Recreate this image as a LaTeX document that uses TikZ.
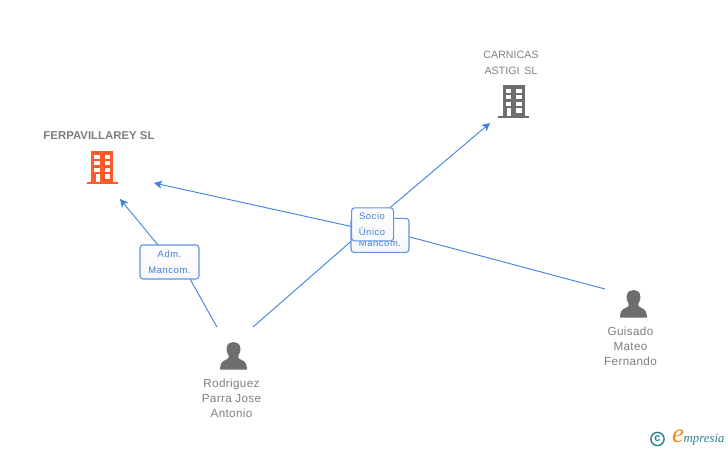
\documentclass[tikz,border=0pt]{standalone}
\usepackage{fontspec}
\setmainfont{Liberation Sans}
\newfontfamily\spacedfont[LetterSpace=6]{Liberation Sans}
\newfontfamily\wordfont[LetterSpace=3]{Liberation Sans}
\newfontfamily\capsfont[LetterSpace=0.5]{Liberation Sans}
\newfontfamily\logofont[Ligatures=TeX]{Liberation Serif}
\definecolor{edgeblue}{HTML}{3F81E3}
\definecolor{boxblue}{HTML}{5F93E6}
\definecolor{labelblue}{HTML}{3A7FDD}
\definecolor{textgray}{HTML}{7F7F7F}
\definecolor{icongray}{HTML}{6E6E6E}
\definecolor{firmorange}{HTML}{FF5A2B}
\definecolor{logoteal}{HTML}{2F7F93}
\definecolor{logoorange}{HTML}{F08A1D}
\usetikzlibrary{arrows.meta}
\tikzset{
  x=1pt,y=-1pt,
  link/.style={draw=edgeblue,line width=0.9pt},
  linkhead/.style={link,-{Stealth[length=8pt,width=8pt,inset=2pt]}},
  rolebox/.style={draw=boxblue,line width=1.1pt,rounded corners=3pt,top color=white,bottom color=black!3,inner sep=0pt,text=labelblue,align=center,font=\fontsize{9.4}{15.5}\selectfont\spacedfont},
  namelabel/.style={text=textgray,align=center,inner sep=0pt,font=\fontsize{11.7}{15}\selectfont\wordfont},
}
% building icon centred on x, with top at y
\newcommand{\buildingicon}[3]{%
  \begin{scope}[shift={(#1,#2)}]
    \fill[#3] (-11,0) rectangle (11,31);
    \fill[#3] (-15.5,31) rectangle (15.5,33.5);
    \foreach \wy in {4,10.5,17}{
      \fill[white] (-7.7,\wy) rectangle (-2.5,\wy+4.3);
      \fill[white] (2.7,\wy) rectangle (8,\wy+4.3);
    }
    \fill[white] (-6.5,23.5) rectangle (-2.5,31);
    \fill[white] (2.7,23.5) rectangle (8,28);
  \end{scope}}
% person icon centred on x, with top at y
\newcommand{\personicon}[2]{%
  \begin{scope}[shift={(#1,#2)}]
    \fill[icongray] (-13.5,27.5) .. controls (-13.3,24) and (-12.5,20.5) .. (-10.5,19.3)
      .. controls (-9,18.4) and (-7,17.6) .. (-5.5,16.5)
      .. controls (-4.5,15.8) and (-4.5,14.5) .. (-5,13.5)
      .. controls (-7,11) and (-7,8) .. (-6.8,6)
      .. controls (-6.5,1.5) and (-3,0) .. (0,0)
      .. controls (3,0) and (6.5,1.5) .. (6.8,6)
      .. controls (7,8) and (7,11) .. (5,13.5)
      .. controls (4.5,14.5) and (4.5,15.8) .. (5.5,16.5)
      .. controls (7,17.6) and (9,18.4) .. (10.5,19.3)
      .. controls (12.5,20.5) and (13.3,24) .. (13.5,27.5)
      -- cycle;
  \end{scope}}
\begin{document}
\begin{tikzpicture}
\useasboundingbox (0,0) rectangle (728,450);
\fill[white] (0,0) rectangle (728,450);

% anchors of the connectors
\coordinate (ferpaIn) at (120,199);
\coordinate (ferpaInB) at (154,183);
\coordinate (carnicasIn) at (490,123);
\coordinate (rodA) at (217,327);
\coordinate (rodB) at (253,327);
\coordinate (guisado) at (605,289);
\coordinate (admTop) at (158,245);
\coordinate (admBottom) at (190,279);
\coordinate (midA) at (372,223);
\coordinate (midB) at (380,229);
\coordinate (midC) at (372,231);

% connectors
\draw[linkhead] (admTop) -- (ferpaIn);
\draw[link] (rodA) -- (admBottom);
\draw[linkhead] (rodB) -- (midA) -- (carnicasIn);
\draw[linkhead] (guisado) -- (midB) -- (midC) -- (ferpaInB);

% role boxes
\node[rolebox,minimum width=59pt,minimum height=34pt] (adm) at (169.5,262) {Adm.\\Mancom.};
\node[rolebox,minimum width=58pt,minimum height=34pt] (mancom) at (380,235.3) {};
\node[text=labelblue,inner sep=0pt,font=\fontsize{9.4}{15.5}\selectfont\spacedfont] (mancomtext) at (380,243) {Mancom.};
\node[rolebox,minimum width=42pt,minimum height=33pt,anchor=north west] (socio) at (351,207.3) {};
\node[text=labelblue,inner sep=0pt,align=center,font=\fontsize{9.4}{15.5}\selectfont\spacedfont] (sociotext) at (372,224) {Socio\\Único};

% entities
\buildingicon{102}{150.5}{firmorange}
\buildingicon{513.5}{84.5}{icongray}
\personicon{233.5}{342}
\personicon{633.5}{290}

\node[text=textgray,inner sep=0pt,font=\fontsize{11.4}{14}\selectfont\bfseries] (ferpa) at (99,136) {FERPAVILLAREY SL};
\node[namelabel,font=\fontsize{10.6}{15.5}\selectfont\capsfont] (carnicas) at (511,63) {CARNICAS\\ASTIGI\, SL};
\node[namelabel] (rod) at (231.5,398) {Rodriguez\\Parra Jose\\Antonio};
\node[namelabel] (gui) at (630.5,346) {Guisado\\Mateo\\Fernando};

% logo
\draw[logoteal,line width=1.4pt] (657.5,439) circle (6.6pt);
\node[text=logoteal,inner sep=0pt,font=\fontsize{11}{11}\selectfont\bfseries] (copyr) at (657.5,438.6) {c};
\node[text=logoorange,inner sep=0pt,font=\fontsize{27}{27}\selectfont\logofont\itshape] (logoe) at (678,436) {e};
\node[text=logoteal,inner sep=0pt,anchor=west,font=\fontsize{12.8}{14}\selectfont\logofont\itshape] (logot) at (683.5,440) {mpresia};
\end{tikzpicture}
\end{document}
